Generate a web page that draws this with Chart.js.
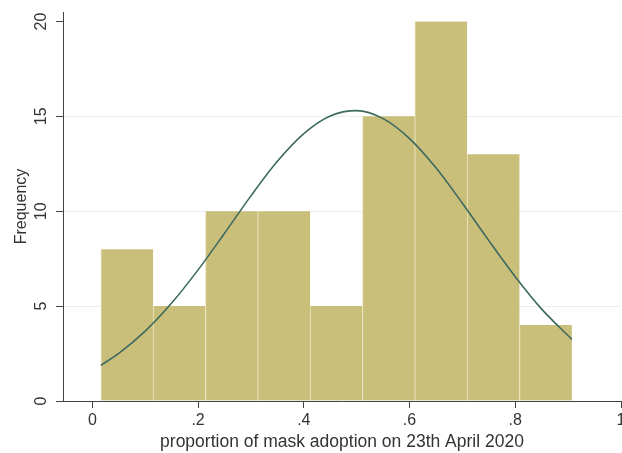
<!DOCTYPE html>
<html>
<head>
<meta charset="utf-8">
<script src="https://cdn.jsdelivr.net/npm/chart.js@4"></script>
<style>
  body { margin: 0; background: #fff; }
</style>
</head>
<body>
<canvas id="hist" width="622" height="453"></canvas>
<script>
// histogram bins (edges) and counts
const binEdges = [0.016, 0.115, 0.214, 0.313, 0.412, 0.511, 0.610, 0.709, 0.808, 0.907];
const counts = [8, 5, 10, 10, 5, 15, 20, 13, 4];

// normal curve
const curveX = [0.016, 0.05, 0.1, 0.15, 0.2, 0.25, 0.3, 0.35, 0.4, 0.45, 0.5, 0.55, 0.6, 0.65, 0.7, 0.75, 0.8, 0.85, 0.907];
const curveY = [1.88, 2.51, 3.68, 5.16, 6.91, 8.84, 10.81, 12.63, 14.09, 15.02, 15.30, 14.88, 13.83, 12.29, 10.42, 8.45, 6.55, 4.84, 3.25];

const xTicks = [0, 0.2, 0.4, 0.6, 0.8, 1];
const xTickLabels = ['0', '.2', '.4', '.6', '.8', '1'];
const yTicks = [0, 5, 10, 15, 20];

const FONT = "'Liberation Sans', Arial, sans-serif";

const barData = counts.map((c, i) => ({ x: (binEdges[i] + binEdges[i + 1]) / 2, y: c }));
const lineData = curveX.map((x, i) => ({ x: x, y: curveY[i] }));

// y tick labels are vertical in the original
const yLabels = {
    id: 'yLabels',
    afterDraw(chart) {
        const ctx = chart.ctx;
        const y = chart.scales.y;
        ctx.save();
        ctx.font = '16px ' + FONT;
        ctx.fillStyle = '#333';
        ctx.textAlign = 'center';
        ctx.textBaseline = 'middle';
        yTicks.forEach(v => {
            ctx.save();
            ctx.translate(42, y.getPixelForValue(v));
            ctx.rotate(-Math.PI / 2);
            ctx.fillText(String(v), 0, 0);
            ctx.restore();
        });
        ctx.restore();
    }
};

new Chart(document.getElementById('hist'), {
    type: 'bar',
    data: {
        datasets: [
            {
                type: 'line',
                data: lineData,
                borderColor: '#3d6a5e',
                borderWidth: 1.6,
                pointRadius: 0,
                cubicInterpolationMode: 'monotone',
                fill: false,
                order: 0
            },
            {
                type: 'bar',
                data: barData,
                backgroundColor: '#c9bf7a',
                borderColor: '#ebe5bb',
                borderWidth: { left: 1, right: 0, top: 0, bottom: 0 },
                borderSkipped: false,
                barPercentage: 1,
                categoryPercentage: 1,
                order: 1
            }
        ]
    },
    plugins: [yLabels],
    options: {
        responsive: false,
        animation: false,
        layout: { padding: { top: 12, right: 1, left: 0, bottom: 0 } },
        plugins: {
            legend: { display: false },
            tooltip: { enabled: false }
        },
        scales: {
            x: {
                type: 'linear',
                min: -0.0555,
                max: 1,
                offset: false,
                afterFit(s) { s.height = 52; s.paddingLeft = 0; s.paddingRight = 0; },
                afterBuildTicks(s) { s.ticks = xTicks.map(v => ({ value: v })); },
                ticks: {
                    padding: 3,
                    color: '#333',
                    font: { family: FONT, size: 16 },
                    maxRotation: 0,
                    callback: (v) => xTickLabels[xTicks.indexOf(v)] ?? ''
                },
                grid: {
                    offset: false,
                    drawOnChartArea: false,
                    drawTicks: true,
                    tickLength: 7,
                    tickColor: '#444'
                },
                border: { color: '#444', width: 1 },
                title: {
                    display: true,
                    text: 'proportion of mask adoption on 23th April 2020',
                    color: '#333',
                    font: { family: FONT, size: 17.5 },
                    padding: { top: 0, bottom: 0 }
                }
            },
            y: {
                min: 0,
                max: 20.5,
                afterFit(s) { s.width = 63; },
                afterBuildTicks(s) { s.ticks = yTicks.map(v => ({ value: v })); },
                ticks: { display: false },
                grid: {
                    color: (c) => (c.tick && c.tick.value > 0 && c.tick.value < 20) ? '#e9eff1' : 'rgba(0,0,0,0)',
                    drawTicks: true,
                    tickLength: 7,
                    tickColor: '#444'
                },
                border: { color: '#444', width: 1 },
                title: {
                    display: true,
                    text: 'Frequency',
                    color: '#333',
                    font: { family: FONT, size: 16 },
                    padding: { top: 12, bottom: 0 }
                }
            }
        }
    }
});
</script>
</body>
</html>
